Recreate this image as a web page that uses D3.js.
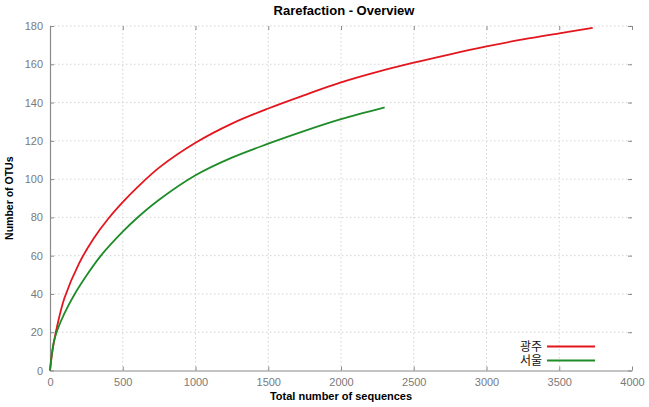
<!DOCTYPE html>
<html><head><meta charset="utf-8">
<script src="https://cdn.jsdelivr.net/npm/d3@7/dist/d3.min.js"></script>
<style>body{margin:0;background:#fff}svg{display:block}</style>
</head><body>
<script>
const seriesNames = ["광주", "서울"];
const gwangjuX = [0, 10, 25, 50, 100, 200, 300, 400, 500, 600, 750, 1000, 1250, 1500, 1750, 2000, 2250, 2500, 2750, 3000, 3250, 3500, 3730];
const gwangjuY = [0, 6.5, 14, 23.5, 38, 56, 69, 79.3, 88, 95.7, 106, 119, 129, 136.9, 143.9, 150.5, 156, 160.8, 165.2, 169.3, 173, 176.2, 179];
const seoulX = [0, 10, 25, 50, 100, 170, 250, 350, 500, 600, 750, 1000, 1250, 1500, 1750, 2000, 2300];
const seoulY = [0, 7, 14.5, 21, 30, 40, 49.5, 60, 72.5, 79.8, 89.2, 102, 111.2, 118.5, 125.2, 131.3, 137.5];
const xTicks = [0, 500, 1000, 1500, 2000, 2500, 3000, 3500, 4000];
const yTicks = [0, 20, 40, 60, 80, 100, 120, 140, 160, 180];
const colors = ["#e3161e", "#1e8c28"];

const W = 649, H = 407;
const svg = d3.select("body").append("svg").attr("width", W).attr("height", H);
const x = d3.scaleLinear().domain([0, 4000]).range([50, 632]);
const y = d3.scaleLinear().domain([0, 180]).range([370.5, 26]);
const axisCol = "#8a8a8a", font = "'Liberation Sans', Arial, sans-serif";

// grid
const g = svg.append("g");
g.selectAll(".vg").data(xTicks.slice(1, -1)).enter().append("line")
  .attr("x1", d => x(d)).attr("x2", d => x(d)).attr("y1", y(0)).attr("y2", y(180))
  .attr("stroke", "#d4d4d4").attr("stroke-dasharray", "1.5,2.5");
g.selectAll(".hg").data(yTicks.slice(1)).enter().append("line")
  .attr("x1", x(0)).attr("x2", x(4000)).attr("y1", d => y(d)).attr("y2", d => y(d))
  .attr("stroke", "#d4d4d4").attr("stroke-dasharray", "1.5,2.5");

// axes
const fmt = d3.format("d");
const axB = svg.append("g").attr("transform", `translate(0,${y(0)})`)
  .call(d3.axisBottom(x).tickValues(xTicks).tickFormat(fmt).tickSize(-4).tickPadding(8).tickSizeOuter(0));
const axL = svg.append("g").attr("transform", `translate(${x(0)},0)`)
  .call(d3.axisLeft(y).tickValues(yTicks).tickFormat(fmt).tickSize(-4).tickPadding(7).tickSizeOuter(0));
const axT = svg.append("g").attr("transform", `translate(0,${y(180)})`)
  .call(d3.axisTop(x).tickValues(xTicks).tickSize(-4).tickFormat("").tickSizeOuter(0));
const axR = svg.append("g").attr("transform", `translate(${x(4000)},0)`)
  .call(d3.axisRight(y).tickValues(yTicks).tickSize(-4).tickFormat("").tickSizeOuter(0));
axT.select(".domain").remove();
axR.select(".domain").remove();
[axB, axL, axT, axR].forEach(a => {
  a.selectAll("line").attr("stroke", axisCol);
  a.selectAll(".domain").attr("stroke", axisCol).attr("stroke-width", 1.2);
  a.selectAll("text").attr("fill", "#7a7a7a").style("font-family", font).style("font-size", "11px");
});

// lines
const line = d3.line().x(d => x(d[0])).y(d => y(d[1])).curve(d3.curveCatmullRom.alpha(0.5));
const data = [d3.zip(gwangjuX, gwangjuY), d3.zip(seoulX, seoulY)];
data.forEach((d, i) => {
  svg.append("path").datum(d).attr("d", line).attr("fill", "none")
    .attr("stroke", colors[i]).attr("stroke-width", 1.8);
});

// legend
seriesNames.forEach((n, i) => {
  const ly = 346.5 + i * 14;
  svg.append("text").attr("x", 542).attr("y", ly).attr("dy", "0.35em").attr("text-anchor", "end")
    .style("font-family", "'Noto Sans CJK KR', sans-serif").style("font-size", "12px").attr("fill", "#111").text(n);
  svg.append("line").attr("x1", 547).attr("x2", 595).attr("y1", ly).attr("y2", ly)
    .attr("stroke", colors[i]).attr("stroke-width", 1.8);
});

// titles
svg.append("text").attr("x", 344).attr("y", 14.5).attr("text-anchor", "middle")
  .style("font-family", font).style("font-weight", "bold").style("font-size", "13px").text("Rarefaction - Overview");
svg.append("text").attr("x", 341).attr("y", 400).attr("text-anchor", "middle")
  .style("font-family", font).style("font-weight", "bold").style("font-size", "11px").text("Total number of sequences");
svg.append("text").attr("transform", `translate(13,${(y(0) + y(180)) / 2}) rotate(-90)`).attr("text-anchor", "middle")
  .style("font-family", font).style("font-weight", "bold").style("font-size", "10.5px").text("Number of OTUs");
</script>
</body></html>
